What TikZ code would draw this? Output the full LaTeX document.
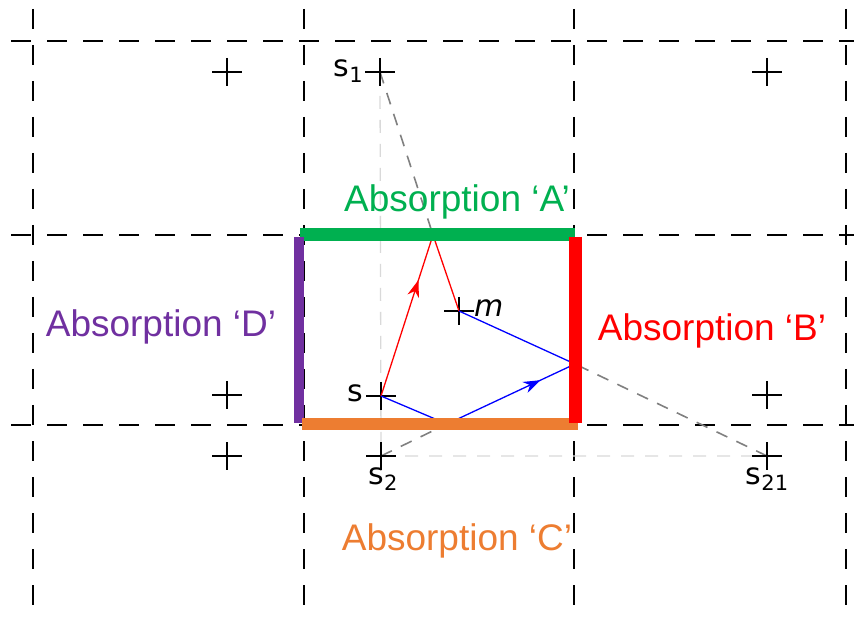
\documentclass[tikz,border=0pt]{standalone}
\usepackage{fontspec}
\setmainfont{Liberation Sans}
\newfontfamily\ptfont{DejaVu Sans}
\usetikzlibrary{arrows.meta,decorations.markings}
\definecolor{absA}{RGB}{0,176,80}
\definecolor{absB}{RGB}{255,0,0}
\definecolor{absC}{RGB}{237,125,49}
\definecolor{absD}{RGB}{112,48,160}
\newcommand{\subidx}[1]{\raisebox{-6pt}{\fontsize{21}{21}\selectfont #1}}

\begin{document}
\begin{tikzpicture}[x=1pt,y=-1pt,
    grid/.style={line width=1.8pt,dash pattern=on 20pt off 16pt},
    guide/.style={line width=1.3pt,black!15,dash pattern=on 13pt off 11pt},
    image/.style={line width=1.6pt,black!50,dash pattern=on 12pt off 10pt},
    cross/.style={line width=1.3pt},
    wall/.style={line width=#1},
    ray/.style={line width=1.3pt},
    midarrow/.style={postaction={decorate},decoration={markings,
        mark=at position #1 with {\arrow{Stealth[length=17pt,width=12pt]}}}},
    abstext/.style={font=\fontsize{37}{40}\selectfont,inner sep=0pt,anchor=base},
    pttext/.style={font=\ptfont\fontsize{30}{32}\selectfont,inner sep=0pt}]
  \useasboundingbox (0,0) rectangle (854,617);
  % grid
  \foreach \x in {33,304,574,846}
    \draw[grid] (\x,9) -- (\x,608);
  \foreach \y in {41,235,425}
    \draw[grid] (11,\y) -- (854,\y);

  \coordinate (q1) at (227,72);
  \coordinate (s1) at (380,72);
  \coordinate (q2) at (767,72);
  \coordinate (q3) at (227,395);
  \coordinate (s) at (381,396);
  \coordinate (q4) at (767,395);
  \coordinate (q5) at (227,456);
  \coordinate (s2) at (381,456);
  \coordinate (s21) at (767,456);
  \coordinate (m) at (459,311);
  \coordinate (pA) at (433,235);
  \coordinate (pB) at (575,364);
  \coordinate (pC) at (447,424);

  \draw[guide] (s1) -- (s2) -- (s21);
  \draw[image] (s1) -- (pA);
  \draw[image] (s21) -- (pB);
  \draw[image] (s2) -- (pC);

  \foreach \p in {q1,s1,q2,q3,s,q4,q5,s2,s21,m}
    \draw[cross] (\p) ++(-15,0) -- ++(30,0) (\p) ++(0,-14) -- ++(0,28);

  % rays
  \draw[ray,red,midarrow=0.72] (s) -- (pA);
  \draw[ray,red] (pA) -- (m);
  \draw[ray,blue] (s) -- (pC);
  \draw[ray,blue,midarrow=0.73] (pC) -- (pB);
  \draw[ray,blue] (pB) -- (m);

  % walls
  \draw[wall=13pt,absA] (300,235) -- (575,235);
  \draw[wall=10pt,absD] (299,237) -- (299,423);
  \draw[wall=12pt,absC] (302,424) -- (578,424);
  \draw[wall=13pt,absB] (575,237) -- (575,423);

  \node[abstext,absA] (labA) at (457,212) {Absorption `A'};
  \node[abstext,absB] (labB) at (712,341) {Absorption `B'};
  \node[abstext,absC] (labC) at (457,550) {Absorption `C'};
  \node[abstext,absD] (labD) at (161,337) {Absorption `D'};

  \node[pttext,anchor=base east] (ls1) at ([xshift=-17pt,yshift=-5pt]s1) {s\subidx{1}};
  \node[pttext,anchor=base east] (ls) at ([xshift=-18pt,yshift=-6pt]s) {s};
  \node[pttext,anchor=base] (ls2) at ([xshift=2pt,yshift=-28pt]s2) {s\subidx{2}};
  \node[pttext,anchor=base] (ls21) at ([yshift=-28pt]s21) {s\subidx{21}};
  \node[pttext,anchor=base west] (lm) at ([xshift=15pt,yshift=-6pt]m) {\itshape m};
\end{tikzpicture}
\end{document}
